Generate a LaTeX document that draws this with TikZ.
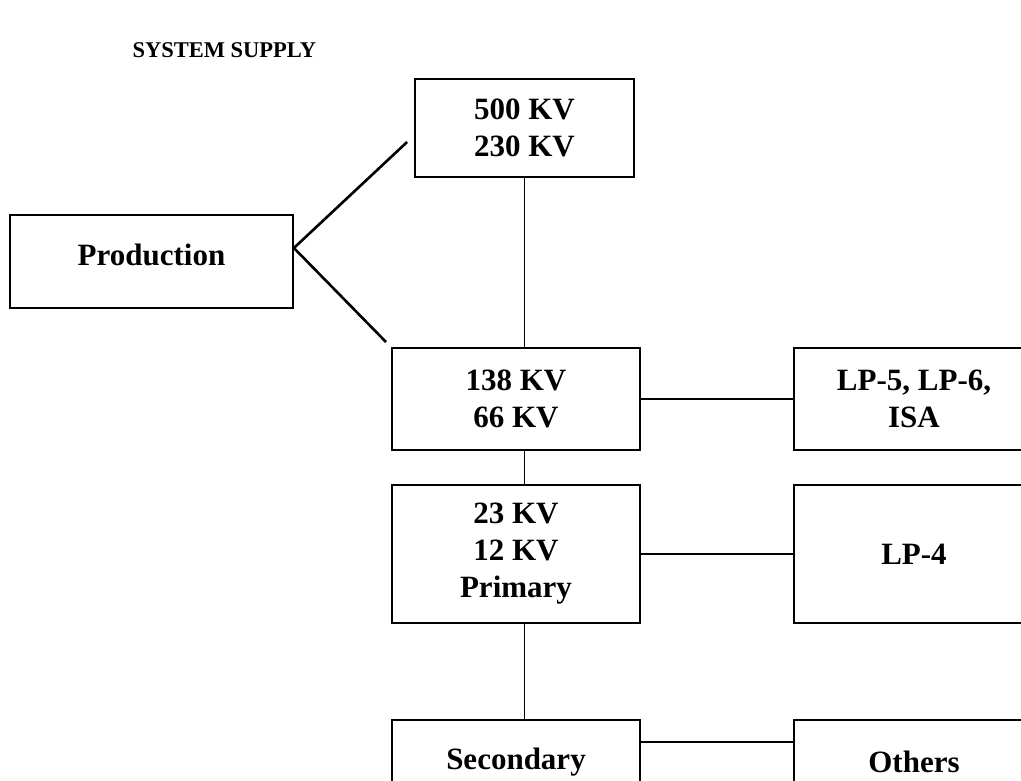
\documentclass[tikz,border=0pt]{standalone}
\usepackage{fontspec}
\setmainfont{Liberation Serif}
\usetikzlibrary{calc}
\begin{document}
\begin{tikzpicture}[x=1pt,y=-1pt,
    box/.style={draw, line width=1.8pt, align=center, inner sep=0pt,
      font=\fontsize{31}{37}\selectfont\bfseries},
    wire/.style={line width=1.5pt},
    feed/.style={line width=2.6pt}]
  \clip (0,0) rectangle (1021,781);
  % title
  \node[anchor=base west, font=\fontsize{22.5}{26}\selectfont\bfseries] (title) at (129,58) {SYSTEM SUPPLY};
  % boxes
  \node[box, minimum width=219, minimum height=98] (hv) at (524.5,128) {500 KV\\230 KV};
  \node[box, minimum width=283, minimum height=93, text depth=14pt] (prod) at (151.5,261.5) {Production};
  \node[box, minimum width=248, minimum height=102] (mid) at (516,399) {138 KV\\66 KV};
  \node[box, minimum width=240, minimum height=102] (lp56) at (914,399) {LP-5, LP-6,\\ISA};
  \node[box, minimum width=248, minimum height=138] (dist) at (516,554) {23 KV\\12 KV\\Primary};
  \node[box, minimum width=240, minimum height=138] (lp4) at (914,554) {LP-4};
  \node[box, minimum width=248, minimum height=84] (sec) at (516,762) {Secondary};
  \node[box, minimum width=240, minimum height=84] (oth) at (914,762) {Others};
  % links
  \draw[feed] ([yshift=13.5pt]prod.east) -- ($(hv.west)+(-7,14)$);
  \draw[feed] ([yshift=13.5pt]prod.east) -- ($(mid.north west)+(-5,-5)$);
  \draw[wire] (hv.south) -- (hv.south |- mid.north);
  \draw[wire] (hv.south |- mid.south) -- (hv.south |- dist.north);
  \draw[wire] (hv.south |- dist.south) -- (hv.south |- sec.north);
  \draw[wire] (mid.east) -- (lp56.west);
  \draw[wire] (dist.east) -- (lp4.west);
  \draw[wire] ([yshift=20pt]sec.east) -- ([yshift=20pt]oth.west);
\end{tikzpicture}
\end{document}
